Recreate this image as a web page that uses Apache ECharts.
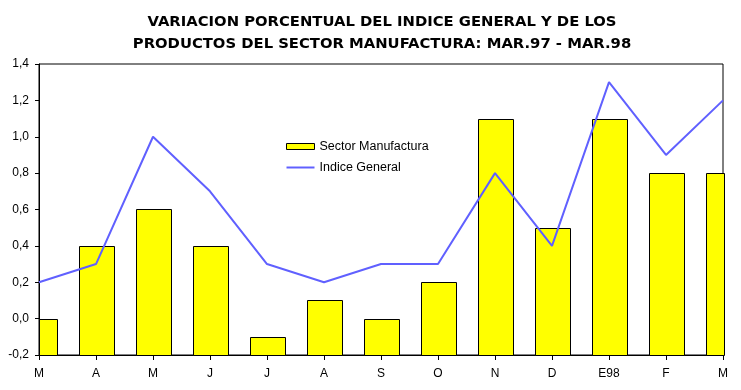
<!DOCTYPE html>
<html>
<head>
<meta charset="utf-8">
<script src="https://cdn.jsdelivr.net/npm/echarts@6/dist/echarts.min.js"></script>
<style>html,body{margin:0;padding:0;background:#fff;}#c{width:741px;height:390px;}</style>
</head>
<body>
<div id="c"></div>
<script>
var categories = ['M', 'A', 'M', 'J', 'J', 'A', 'S', 'O', 'N', 'D', 'E98', 'F', 'M'];
var sectorManufactura = [0.0, 0.4, 0.6, 0.4, -0.1, 0.1, 0.0, 0.2, 1.1, 0.5, 1.1, 0.8, 0.8];
var indiceGeneral = [0.2, 0.3, 1.0, 0.7, 0.3, 0.2, 0.3, 0.3, 0.8, 0.4, 1.3, 0.9, 1.2];
var yMin = -0.2, yMax = 1.4, yStep = 0.2;

var font = "Arial, 'Liberation Sans', sans-serif";
var BAR_W = 35;
var chart = echarts.init(document.getElementById('c'), null, {renderer: 'canvas'});

function renderBar(params, api) {
  var idx = api.value(0);
  var top = api.coord([idx, api.value(1)]);
  var base = api.coord([idx, yMin]);
  var cs = params.coordSys;
  var rect = echarts.graphic.clipRectByRect(
    {x: top[0] - BAR_W / 2, y: Math.min(top[1], base[1]), width: BAR_W, height: Math.abs(base[1] - top[1])},
    {x: cs.x, y: cs.y, width: cs.width, height: cs.height}
  );
  if (!rect) return null;
  return {
    type: 'rect',
    shape: {x: Math.round(rect.x) + 0.5, y: Math.round(rect.y) + 0.5, width: Math.round(rect.width), height: Math.round(rect.height)},
    style: {fill: '#ffff00', stroke: '#000000', lineWidth: 1}
  };
}

chart.setOption({
  animation: false,
  backgroundColor: '#ffffff',
  textStyle: {fontFamily: font},
  title: {
    text: 'VARIACION PORCENTUAL DEL INDICE GENERAL Y DE LOS\nPRODUCTOS DEL SECTOR MANUFACTURA: MAR.97 - MAR.98',
    left: 377, top: 6, textAlign: 'center',
    textStyle: {fontFamily: "'DejaVu Sans', sans-serif", fontSize: 14.8, fontWeight: 'bold', color: '#000', lineHeight: 22}
  },
  legend: {
    left: 281, top: 135, orient: 'vertical',
    itemWidth: 28, itemHeight: 6, itemGap: 8,
    textStyle: {fontFamily: font, fontSize: 12.5, color: '#000'},
    data: [
      {name: 'Sector Manufactura', icon: 'rect', itemStyle: {color: '#ffff00', borderColor: '#000', borderWidth: 1}},
      {name: 'Indice General', icon: 'path://M0,0h28v2h-28z', itemStyle: {color: '#6060ff', borderWidth: 0}}
    ]
  },
  grid: {left: 39, right: 18, top: 64, bottom: 35, show: true, borderColor: '#000', borderWidth: 1, backgroundColor: 'transparent'},
  xAxis: {
    type: 'category', data: categories, boundaryGap: false,
    axisLine: {onZero: false, lineStyle: {color: '#000', width: 1}},
    axisTick: {show: true, length: 5, lineStyle: {color: '#000'}},
    axisLabel: {interval: 0, color: '#000', fontSize: 12, fontFamily: font, margin: 13},
    splitLine: {show: false}
  },
  yAxis: {
    type: 'value', min: yMin, max: yMax, interval: yStep,
    axisLine: {show: true, lineStyle: {color: '#000', width: 1}},
    axisTick: {show: true, length: 4, lineStyle: {color: '#000'}},
    axisLabel: {color: '#000', fontSize: 12, fontFamily: font, margin: 10,
      formatter: function (v) { return v.toFixed(1).replace('.', ','); }},
    splitLine: {show: false}
  },
  series: [
    {
      name: 'Sector Manufactura', type: 'custom',
      data: sectorManufactura.map(function (v, i) { return [i, v]; }),
      encode: {x: 0, y: 1},
      renderItem: renderBar,
      itemStyle: {color: '#ffff00', borderColor: '#000', borderWidth: 1}
    },
    {
      name: 'Indice General', type: 'line', data: indiceGeneral,
      symbol: 'none', showSymbol: false,
      lineStyle: {color: '#6060ff', width: 2},
      itemStyle: {color: '#6060ff'}
    }
  ]
});
</script>
</body>
</html>
